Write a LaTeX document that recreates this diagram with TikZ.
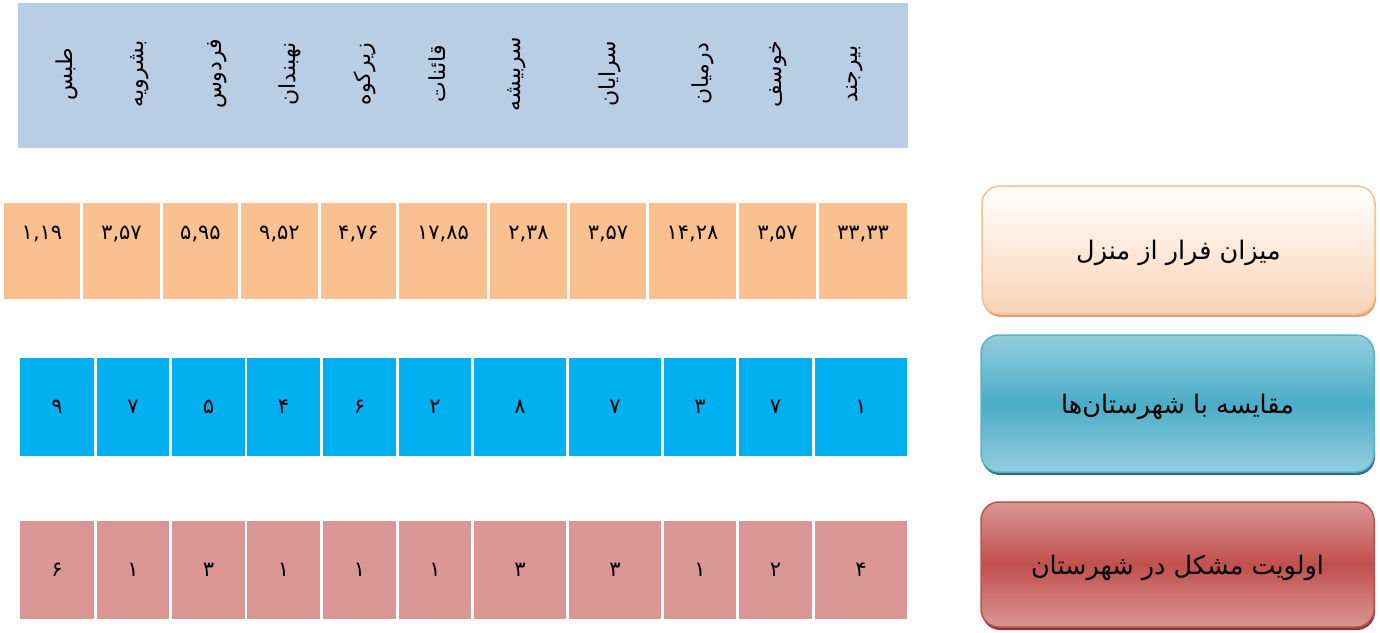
\documentclass[tikz,border=0pt]{standalone}
\usepackage{fontspec}
\newfontfamily\farsi[Script=Arabic]{DejaVu Sans}
\TeXXeTstate=1
\usetikzlibrary{shadows}
\definecolor{headblue}{HTML}{B9CDE5}
\definecolor{ratecell}{HTML}{FAC090}
\definecolor{compcell}{HTML}{00B0F0}
\definecolor{prioritycell}{HTML}{D99694}
\definecolor{rateedge}{HTML}{FAC090}
\definecolor{ratelow}{HTML}{FAD3B4}
\definecolor{rateshadow}{HTML}{D9A47F}
\definecolor{compedge}{HTML}{57B2CB}
\definecolor{complight}{HTML}{93CDDD}
\definecolor{compmid}{HTML}{4BACC6}
\definecolor{compshadow}{HTML}{2E6E80}
\definecolor{priorityedge}{HTML}{C0504D}
\definecolor{prioritymid}{HTML}{C0504D}
\definecolor{priorityshadow}{HTML}{8E3A37}
\begin{document}
\begin{tikzpicture}[x=1pt,y=-1pt]
	\tikzstyle{head_band} = [rectangle, fill=headblue, inner sep=0pt]
	\tikzstyle{head_text} = [font=\farsi\fontsize{22}{26}\selectfont, rotate=90, inner sep=0pt]
	\tikzstyle{rate_cell} = [rectangle, fill=ratecell, inner sep=0pt, minimum height=96pt, text height=13pt, text depth=37pt, font=\farsi\fontsize{21}{24}\selectfont]
	\tikzstyle{comp_cell} = [rectangle, fill=compcell, inner sep=0pt, minimum height=98pt, font=\farsi\fontsize{21}{24}\selectfont]
	\tikzstyle{priority_cell} = [rectangle, fill=prioritycell, inner sep=0pt, minimum height=98pt, font=\farsi\fontsize{21}{24}\selectfont]
	\tikzstyle{title_box} = [rectangle, rounded corners=18pt, line width=1.5pt, minimum width=393pt, text depth=0pt, font=\farsi\fontsize{25.5}{30}\selectfont]
	\useasboundingbox (0,0) rectangle (1380,632);

	% Header band with the county names
	\node (Head) [head_band, minimum width=890pt, minimum height=145pt] at (463,75.5) {};
	\foreach \x/\name [count=\i] in {67/طبس, 140/بشرویه, 217/فردوس, 290/نهبندان, 365/زیرکوه, 437/قائنات, 517/سربیشه, 610/سرایان, 703/درمیان, 778/خوسف, 855/بیرجند}
	\node (H\i) [head_text] at (\x,74) {\beginR\name\endR};

	% Row of rates
	\foreach \l/\r/\v [count=\i] in {4/80/{۱,۱۹}, 83/160/{۳,۵۷}, 163/238/{۵,۹۵}, 241/318/{۹,۵۲}, 321/396/{۴,۷۶}, 399/487/{۱۷,۸۵}, 490/567/{۲,۳۸}, 570/646/{۳,۵۷}, 649/736/{۱۴,۲۸}, 739/816/{۳,۵۷}, 819/907/{۳۳,۳۳}}
	\node (R\i) [rate_cell, minimum width={(\r-\l)*1pt}] at ({(\l+\r)/2},251) {\v};

	% Rows of comparison and priority
	\foreach \l/\r/\c/\p [count=\i] in {20/94/۹/۶, 97/169/۷/۱, 172/245/۵/۳, 247/320/۴/۱, 323/396/۶/۱, 399/471/۲/۱, 474/566/۸/۳, 569/661/۷/۳, 664/736/۳/۱, 739/812/۷/۲, 815/907/۱/۴}
	{
	\node (C\i) [comp_cell, minimum width={(\r-\l)*1pt}] at ({(\l+\r)/2},407) {\c};
	\node (P\i) [priority_cell, minimum width={(\r-\l)*1pt}] at ({(\l+\r)/2},570) {\p};
	}

	% Titles of the rows
	\node (RateTitle) [title_box, minimum height=128pt, draw=rateedge, top color=white, bottom color=ratelow,
		drop shadow={shadow xshift=1pt, shadow yshift=-3pt, fill=rateshadow, opacity=1}] at (1178.5,250) {\beginR میزان فرار از منزل\endR};
	\node (CompTitle) [title_box, minimum height=137pt, draw=compedge, top color=complight, bottom color=complight, middle color=compmid,
		drop shadow={shadow xshift=1pt, shadow yshift=-3pt, fill=compshadow, opacity=1}] at (1177.5,403.5) {\beginR مقایسه با شهرستان‌ها\endR};
	\node (PriorityTitle) [title_box, minimum height=125pt, draw=priorityedge, top color=prioritycell, bottom color=prioritycell, middle color=prioritymid,
		drop shadow={shadow xshift=1pt, shadow yshift=-3pt, fill=priorityshadow, opacity=1}] at (1177.5,564.5) {\beginR اولویت مشکل در شهرستان\endR};
\end{tikzpicture}
\end{document}
